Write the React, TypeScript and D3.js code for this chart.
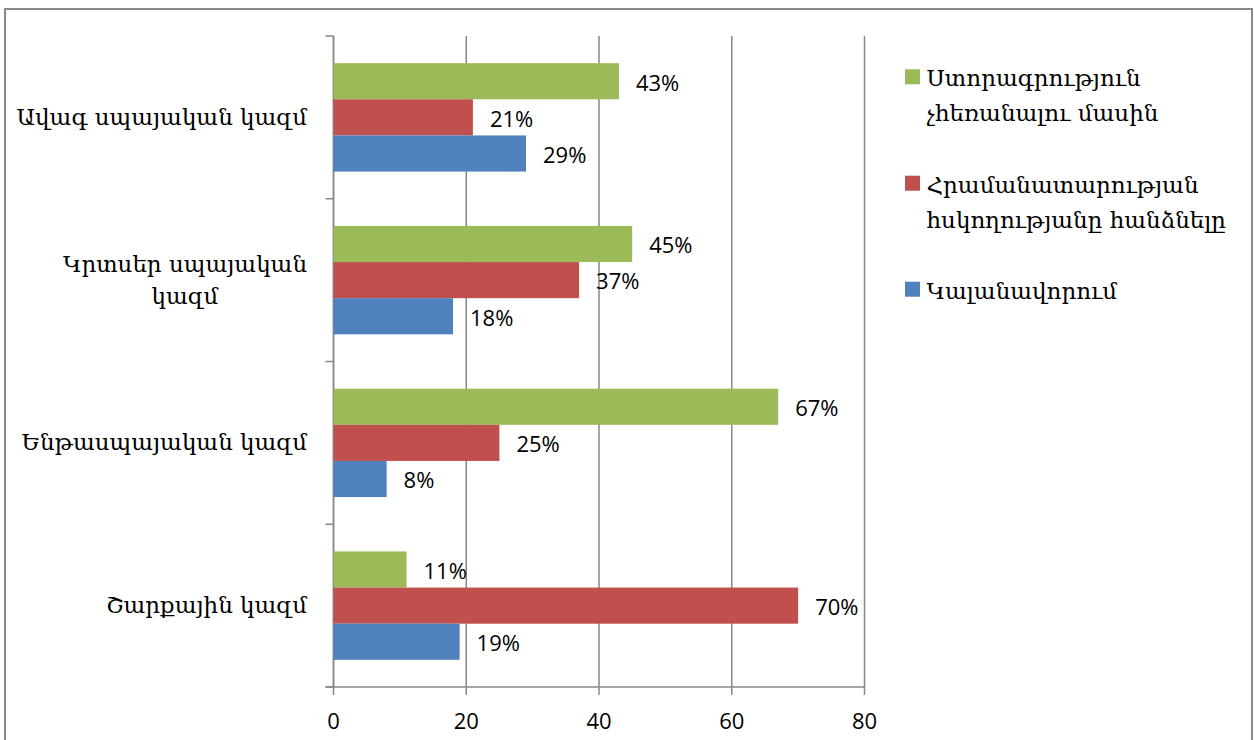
import React from "react";
import * as d3 from "d3";

// Categories (top to bottom); "\n" marks a wrapped axis label
const categories = [
  "Ավագ սպայական կազմ",
  "Կրտսեր սպայական\nկազմ",
  "Ենթասպայական կազմ",
  "Շարքային կազմ",
];

// Series names (legend order, also the order of bars within a group, top to bottom)
const seriesNames = [
  "Ստորագրություն\nչհեռանալու մասին",
  "Հրամանատարության\nհսկողությանը հանձնելը",
  "Կալանավորում",
];
const seriesColors = ["#9BBB59", "#C0504D", "#4F81BD"];

// Values in percent, per series, following the categories order
const signatureValues = [43, 45, 67, 11];
const commandValues = [21, 37, 25, 70];
const arrestValues = [29, 18, 8, 19];
const seriesValues = [signatureValues, commandValues, arrestValues];

const xTicks = [0, 20, 40, 60, 80];

const W = 1254;
const H = 740;
const plot = { left: 333.5, right: 864.5, top: 36, bottom: 687 };

const SERIF = "'DejaVu Serif', 'DejaVu Sans', serif";
const SANS = "'Open Sans', 'Liberation Sans', sans-serif";

export default function App() {
  const x = d3.scaleLinear().domain([0, 80]).range([plot.left, plot.right]);
  const y = d3
    .scaleBand<string>()
    .domain(categories)
    .range([plot.top, plot.bottom])
    .padding(0);
  const ySub = d3
    .scaleBand<number>()
    .domain(d3.range(seriesNames.length))
    .range([0, y.bandwidth()])
    .paddingInner(0)
    .paddingOuter(0.752);

  const gridColor = "#878787";

  return (
    <svg
      width={W}
      height={H}
      viewBox={`0 0 ${W} ${H}`}
      style={{ position: "absolute", left: 0, top: 0, display: "block", background: "#fff" }}
    >
      {/* chart frame */}
      <rect x={5} y={9} width={1247} height={H + 20} fill="#fff" stroke="#8a8a8a" strokeWidth={2} />

      {/* vertical gridlines */}
      {xTicks.map((t) => (
        <line
          key={`g${t}`}
          x1={x(t)}
          x2={x(t)}
          y1={plot.top}
          y2={plot.bottom + 8}
          stroke={gridColor}
          strokeWidth={1.5}
        />
      ))}

      {/* category axis with tick marks */}
      <line x1={plot.left} x2={plot.left} y1={plot.top} y2={plot.bottom} stroke={gridColor} strokeWidth={1.5} />
      {[...categories.map((c) => y(c)!), plot.bottom].map((v, i) => (
        <line key={`ct${i}`} x1={plot.left - 8} x2={plot.left} y1={v} y2={v} stroke={gridColor} strokeWidth={1.5} />
      ))}

      {/* value axis */}
      <line x1={plot.left - 8} x2={plot.right} y1={plot.bottom} y2={plot.bottom} stroke={gridColor} strokeWidth={1.5} />
      {xTicks.map((t) => (
        <text
          key={`xl${t}`}
          x={x(t)}
          y={729}
          textAnchor="middle"
          fontFamily={SANS}
          fontSize={22}
          fill="#000"
        >
          {t}
        </text>
      ))}

      {/* bars and value labels */}
      {categories.map((c, ci) => (
        <g key={`cat${ci}`} transform={`translate(0,${y(c)})`}>
          {seriesValues.map((vals, si) => {
            const v = vals[ci];
            const top = ySub(si)!;
            const h = ySub.bandwidth();
            return (
              <g key={`b${si}`}>
                <rect x={x(0)} y={top} width={x(v) - x(0)} height={h} fill={seriesColors[si]} />
                <text
                  x={x(v) + 17}
                  y={top + h / 2 + 9.3}
                  fontFamily={SANS}
                  fontSize={22}
                  fill="#000"
                >
                  {`${v}%`}
                </text>
              </g>
            );
          })}
        </g>
      ))}

      {/* category labels */}
      {categories.map((c, ci) => {
        const lines = c.split("\n");
        const center = y(c)! + y.bandwidth() / 2;
        const lh = 31.7;
        const first = center + 7.6 - ((lines.length - 1) * lh) / 2;
        const multi = lines.length > 1;
        return (
          <text
            key={`cl${ci}`}
            fontFamily={SERIF}
            fontSize={23}
            fill="#000"
            textAnchor={multi ? "middle" : "end"}
          >
            {lines.map((l, li) => (
              <tspan key={li} x={multi ? 185 : 307} y={first + li * lh}>
                {l}
              </tspan>
            ))}
          </text>
        );
      })}

      {/* legend */}
      {seriesNames.map((name, si) => {
        const tops = [69.3, 175.7, 281.7];
        const lines = name.split("\n");
        return (
          <g key={`lg${si}`}>
            <rect x={905} y={tops[si]} width={15} height={15} fill={seriesColors[si]} />
            <text fontFamily={SERIF} fontSize={23} fill="#000">
              {lines.map((l, li) => (
                <tspan key={li} x={926.5} y={tops[si] + 17 + li * 34.8}>
                  {l}
                </tspan>
              ))}
            </text>
          </g>
        );
      })}
    </svg>
  );
}
